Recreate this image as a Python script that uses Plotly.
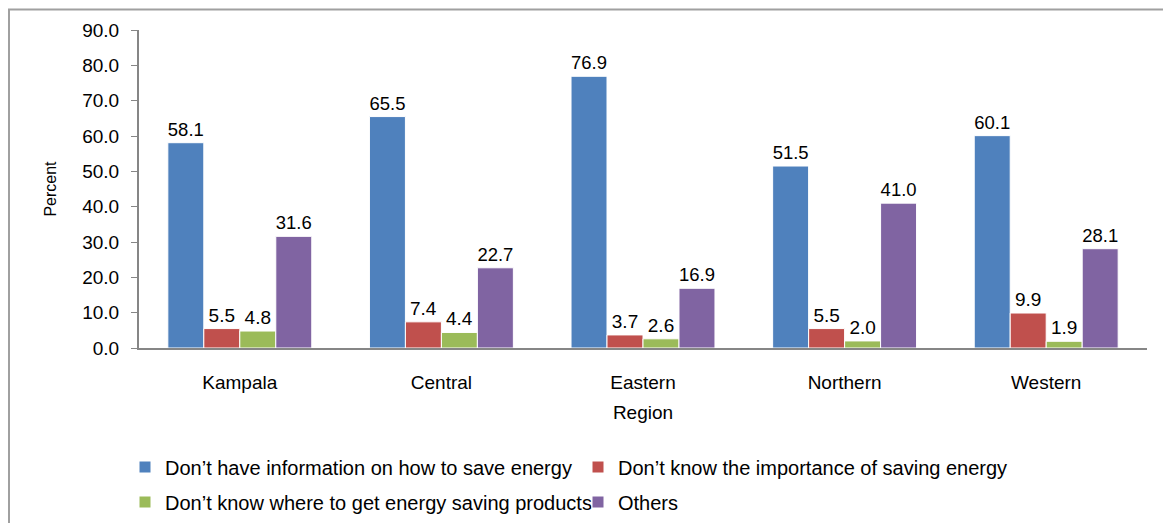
import plotly.graph_objects as go

regions = ["Kampala", "Central", "Eastern", "Northern", "Western"]
series_names = [
    "Don\u2019t have information on how to save energy",
    "Don\u2019t know the importance of saving energy",
    "Don\u2019t know where to get energy saving products",
    "Others",
]
no_info = [58.1, 65.5, 76.9, 51.5, 60.1]
no_importance = [5.5, 7.4, 3.7, 5.5, 9.9]
no_where = [4.8, 4.4, 2.6, 2.0, 1.9]
others = [31.6, 22.7, 16.9, 41.0, 28.1]
colors = ["#4F81BD", "#C0504D", "#9BBB59", "#8064A2"]
legend_groups = ["legend", "legend", "legend2", "legend2"]
y_ticks = [0, 10, 20, 30, 40, 50, 60, 70, 80, 90]

FONT = "Liberation Sans, Arial, sans-serif"
# page has an 8px body margin, so figure is drawn 8px smaller and offset
OFF = 8
W, H = 1171 - OFF, 523 - OFF
# target plot area in page coords: x 139..1147, y 30..348
ml = 139 - OFF
mr = W - (1147 - OFF)
mt = 30 - OFF
mb = H - (348 - OFF)
pw = W - ml - mr
ph = H - mt - mb


def px_x(p):
    """page x -> paper x"""
    return (p - OFF - ml) / pw


def px_y(p):
    """page y -> paper y"""
    return (H - mb - (p - OFF)) / ph


fig = go.Figure()
for name, vals, col, lg in zip(series_names, [no_info, no_importance, no_where, others], colors, legend_groups):
    fig.add_trace(go.Bar(
        x=regions, y=vals, name=name, legend=lg,
        marker=dict(color=col, line=dict(color="white", width=1)),
        text=[f"{v:.1f}" for v in vals], textposition="outside",
        textfont=dict(size=19, color="#000000", family=FONT),
        cliponaxis=False,
    ))

legend_common = dict(
    orientation="h", xanchor="left", yanchor="middle",
    font=dict(size=20, family=FONT, color="#000000"),
    entrywidth=408, entrywidthmode="pixels",
    itemwidth=30, bgcolor="rgba(0,0,0,0)",
)

fig.update_layout(
    width=W, height=H,
    margin=dict(l=ml, r=mr, t=mt, b=mb, autoexpand=False),
    paper_bgcolor="white", plot_bgcolor="white",
    barmode="group", bargap=0.286, bargroupgap=0,
    font=dict(family=FONT, size=19, color="#000000"),
    showlegend=True,
    legend=dict(x=px_x(125), y=px_y(467), **legend_common),
    legend2=dict(x=px_x(125), y=px_y(502), **legend_common),
    xaxis=dict(
        showline=True, linecolor="#868686", linewidth=2,
        ticks="", tickfont=dict(size=19, family=FONT),
        ticklabelstandoff=16,
        title=dict(text="Region", font=dict(size=19, family=FONT), standoff=14),
        showgrid=False,
    ),
    yaxis=dict(
        range=[0, 90], tickvals=y_ticks, tickformat=".1f",
        showline=True, linecolor="#868686", linewidth=2,
        ticks="outside", ticklen=6, tickcolor="#868686", tickwidth=1,
        tickfont=dict(size=19, family=FONT),
        ticklabelstandoff=8,
        title=dict(text="Percent", font=dict(size=16, family=FONT), standoff=22),
        showgrid=False, zeroline=False,
    ),
    shapes=[dict(
        type="rect", xref="paper", yref="paper",
        x0=px_x(9), x1=px_x(1200), y0=px_y(9.5), y1=px_y(570),
        line=dict(color="#A0A0A0", width=2), fillcolor="rgba(0,0,0,0)", layer="below",
    )],
)

fig.write_html("out.html")
